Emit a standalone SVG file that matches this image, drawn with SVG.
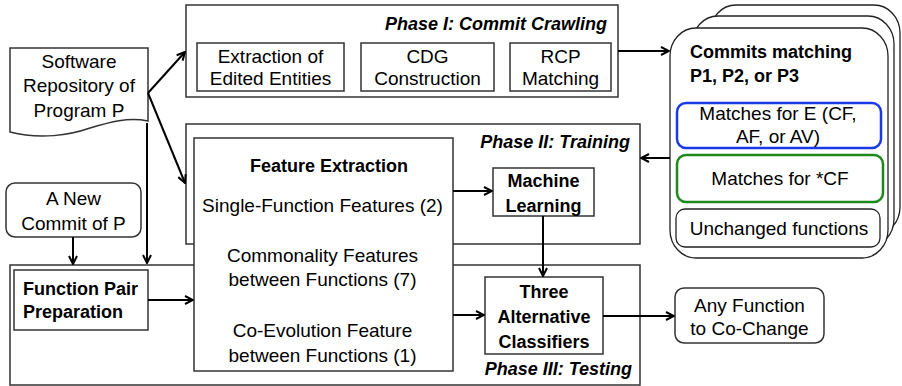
<svg xmlns="http://www.w3.org/2000/svg" width="902" height="386" viewBox="0 0 902 386">
<defs>
<marker id="arr" viewBox="0 0 10 10" refX="9" refY="5" markerWidth="10" markerHeight="10" markerUnits="userSpaceOnUse" orient="auto">
<path d="M1,1 L9,5 L1,9" fill="none" stroke="#000" stroke-width="2"/>
</marker>
<style>
text{font-family:"Liberation Sans",Arial,sans-serif;font-size:19px;fill:#000}
.c{text-anchor:middle}
.b{font-weight:bold;font-size:18px}
.t{font-weight:bold;font-style:italic;font-size:18px;text-anchor:end}
.box{fill:#fff;stroke:#333;stroke-width:1.5}
.phase{fill:#fff;stroke:#333;stroke-width:1.5}
.card{fill:#fff;stroke:#222;stroke-width:1.3}
.con line{stroke:#000;stroke-width:2;marker-end:url(#arr)}
</style>
</defs>
<g id="phase1">
<rect class="phase" x="186" y="5" width="432" height="92"/>
<text class="t" x="607" y="30">Phase I: Commit Crawling</text>
</g>
<g id="extraction">
<rect class="box" x="197" y="43" width="147" height="48"/>
<text class="c" x="270.5" y="63">Extraction of</text>
<text class="c" x="270.5" y="85">Edited Entities</text>
</g>
<g id="cdg">
<rect class="box" x="361" y="43" width="133" height="48"/>
<text class="c" x="427.5" y="63">CDG</text>
<text class="c" x="427.5" y="85">Construction</text>
</g>
<g id="rcp">
<rect class="box" x="510" y="43" width="101" height="48"/>
<text class="c" x="560.5" y="63">RCP</text>
<text class="c" x="560.5" y="85">Matching</text>
</g>
<g id="phase2">
<rect class="phase" x="186" y="124" width="454" height="120"/>
<text class="t" x="630" y="148">Phase II: Training</text>
</g>
<g id="phase3">
<rect class="phase" x="10" y="265" width="630" height="120"/>
<text class="t" x="632" y="375">Phase III: Testing</text>
</g>
<g id="repo">
<path d="M10,48 H148 V121 C128,117 110,122 90,128 C70,135 40,140 10,132 Z" class="box"/>
<text class="c" x="79" y="68">Software</text>
<text class="c" x="79" y="92">Repository of</text>
<text class="c" x="79" y="117">Program P</text>
</g>
<g id="newcommit">
<rect class="box" x="6" y="183" width="135" height="54" rx="9"/>
<text class="c" x="73.5" y="205">A New</text>
<text class="c" x="73.5" y="230">Commit of P</text>
</g>
<g id="featureextraction">
<rect class="box" x="194" y="138" width="259" height="233"/>
<text class="c b" x="329" y="172">Feature Extraction</text>
<text class="c" x="322.5" y="212">Single-Function Features (2)</text>
<text class="c" x="322.5" y="262">Commonality Features</text>
<text class="c" x="322.5" y="286">between Functions (7)</text>
<text class="c" x="322.5" y="337">Co-Evolution Feature</text>
<text class="c" x="322.5" y="362">between Functions (1)</text>
</g>
<g id="funcpair">
<rect class="box" x="14" y="270" width="134" height="60"/>
<text class="b" x="23" y="295">Function Pair</text>
<text class="b" x="23" y="318">Preparation</text>
</g>
<g id="ml">
<rect class="box" x="493" y="168" width="101" height="48"/>
<text class="c b" x="543.5" y="187">Machine</text>
<text class="c b" x="543.5" y="212">Learning</text>
</g>
<g id="classifiers">
<rect class="box" x="485" y="277" width="118" height="77"/>
<text class="c b" x="544" y="298">Three</text>
<text class="c b" x="544" y="323">Alternative</text>
<text class="c b" x="544" y="348">Classifiers</text>
</g>
<g id="anyfunction">
<rect class="box" x="675" y="288" width="149" height="55" rx="9"/>
<text class="c" x="749.5" y="312">Any Function</text>
<text class="c" x="749.5" y="335">to Co-Change</text>
</g>
<g id="commits">
<rect class="card" x="710" y="5" width="190" height="230" rx="26" ry="28"/>
<rect class="card" x="692" y="16" width="202" height="231" rx="26" ry="28"/>
<rect class="card" x="670" y="28" width="218" height="230" rx="26" ry="28"/>
<text class="b" x="690" y="58">Commits matching</text>
<text class="b" x="690" y="82">P1, P2, or P3</text>
<rect x="677" y="103" width="204" height="45" rx="9" fill="#fff" stroke="#1a3ae8" stroke-width="2.5"/>
<text class="c" x="778" y="120">Matches for E (CF,</text>
<text class="c" x="778" y="143">AF, or AV)</text>
<rect x="677" y="155" width="206" height="47" rx="9" fill="#fff" stroke="#1e8a1e" stroke-width="2.5"/>
<text class="c" x="780" y="185">Matches for *CF</text>
<rect x="676" y="209" width="204" height="38" rx="9" fill="#fff" stroke="#222" stroke-width="1.3"/>
<text class="c" x="779" y="235">Unchanged functions</text>
</g>
<g id="connectors" class="con">
<line x1="148" y1="93" x2="185" y2="52"/>
<line x1="148" y1="93" x2="185" y2="183"/>
<line x1="147" y1="123" x2="147" y2="263"/>
<line x1="73" y1="237" x2="73" y2="264"/>
<line x1="148" y1="300" x2="193" y2="300"/>
<line x1="453" y1="191" x2="492" y2="191"/>
<line x1="543" y1="216" x2="543" y2="276"/>
<line x1="453" y1="315" x2="484" y2="315"/>
<line x1="603" y1="316" x2="674" y2="316"/>
<line x1="618" y1="51" x2="669" y2="51"/>
<line x1="670" y1="158" x2="641" y2="158"/>
</g>
</svg>
